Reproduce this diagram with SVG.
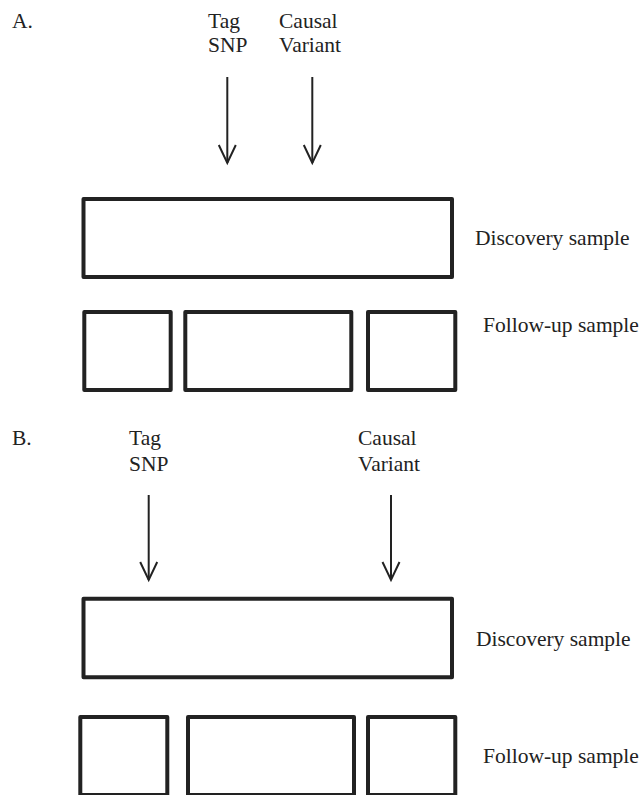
<svg xmlns="http://www.w3.org/2000/svg" width="642" height="795" viewBox="0 0 642 795">
<style>
.t{font-family:"Liberation Serif","Times New Roman",serif;font-size:21.5px;fill:#222}
.box{fill:#fff;stroke:#222;stroke-width:4;stroke-linejoin:round}
.arr{stroke:#222;stroke-width:2;fill:none}
</style>
<rect width="642" height="795" fill="#fff"/>
<g id="panelA">
<text class="t" x="12" y="28">A.</text>
<g id="A-tag"><text class="t" x="208" y="28">Tag</text><text class="t" x="208" y="52">SNP</text></g>
<g id="A-causal"><text class="t" x="279" y="28">Causal</text><text class="t" x="279" y="52">Variant</text></g>
<g id="A-discovery"><rect class="box" x="83.5" y="199" width="368.5" height="78"/><text class="t" x="475" y="245">Discovery sample</text></g>
<g id="A-followup">
<rect class="box" x="84.3" y="312" width="86.4" height="78"/>
<rect class="box" x="185.3" y="312" width="166" height="78"/>
<rect class="box" x="368" y="312" width="87.3" height="78"/>
<text class="t" x="483" y="332">Follow-up sample</text>
</g>
</g>
<g id="panelB">
<text class="t" x="12" y="445">B.</text>
<g id="B-tag"><text class="t" x="129" y="445">Tag</text><text class="t" x="129" y="471">SNP</text></g>
<g id="B-causal"><text class="t" x="358" y="445">Causal</text><text class="t" x="358" y="471">Variant</text></g>
<g id="B-discovery"><rect class="box" x="83.5" y="598.7" width="368.5" height="78.6"/><text class="t" x="476" y="646">Discovery sample</text></g>
<g id="B-followup">
<rect class="box" x="80.3" y="717" width="87" height="78"/>
<rect class="box" x="188" y="717" width="166" height="78"/>
<rect class="box" x="368" y="717" width="87.3" height="78"/>
<text class="t" x="483" y="763">Follow-up sample</text>
</g>
</g>
<g id="connectors">
<path class="arr" d="M227.3,77 V163"/><path class="arr" d="M218.8,145 L227.3,163 L235.8,145"/>
<path class="arr" d="M312.3,77 V163"/><path class="arr" d="M303.8,145 L312.3,163 L320.8,145"/>
<path class="arr" d="M148.7,495 V580"/><path class="arr" d="M140.2,562 L148.7,580 L157.2,562"/>
<path class="arr" d="M391,495 V580"/><path class="arr" d="M382.5,562 L391,580 L399.5,562"/>
</g>
</svg>
